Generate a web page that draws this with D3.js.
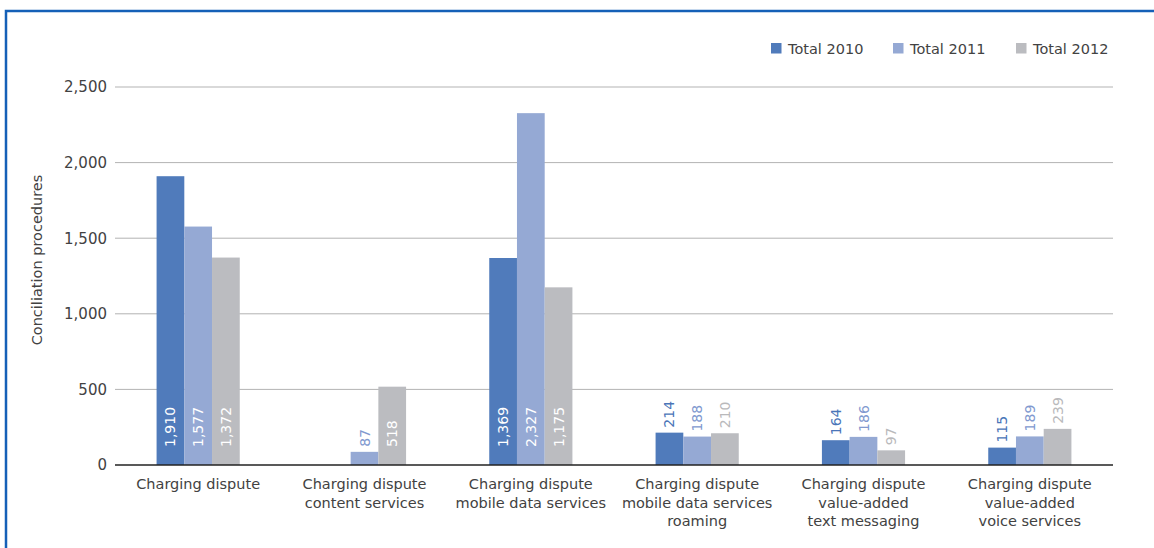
<!DOCTYPE html>
<html>
<head>
<meta charset="utf-8">
<script src="https://cdn.jsdelivr.net/npm/d3@7"></script>
<style>
  html, body { margin: 0; padding: 0; background: #fff; }
  svg { display: block; }
  text { font-family: "DejaVu Sans", sans-serif; }
</style>
</head>
<body>
<svg id="chart" width="1154" height="548"></svg>
<script>
// Conciliation procedures by dispute type, 2010–2012
const categories = [
  ["Charging dispute"],
  ["Charging dispute", "content services"],
  ["Charging dispute", "mobile data services"],
  ["Charging dispute", "mobile data services", "roaming"],
  ["Charging dispute", "value-added", "text messaging"],
  ["Charging dispute", "value-added", "voice services"]
];
const seriesNames = ["Total 2010", "Total 2011", "Total 2012"];
const total2010 = [1910, null, 1369, 214, 164, 115];
const total2011 = [1577, 87, 2327, 188, 186, 189];
const total2012 = [1372, 518, 1175, 210, 97, 239];
const yTicks = [0, 500, 1000, 1500, 2000, 2500];

const seriesValues = [total2010, total2011, total2012];
const barColors = ["#507bbb", "#95a9d4", "#bbbcc0"];
const labelColors = ["#4a75b8", "#8199cf", "#b9b9bb"];
const textColor = "#424242";

const svg = d3.select("#chart");
const margin = { left: 115, right: 41, top: 87, bottom: 83 };
const W = 1154, H = 548;
const plotW = W - margin.left - margin.right;
const plotH = H - margin.top - margin.bottom;

// outer frame
svg.append("rect")
  .attr("x", 6).attr("y", 11)
  .attr("width", 1170).attr("height", 560)
  .attr("fill", "none")
  .attr("stroke", "#1560b7")
  .attr("stroke-width", 2.5);

const g = svg.append("g").attr("transform", `translate(${margin.left},${margin.top})`);

const idx = d3.range(categories.length);
const x0 = d3.scaleBand().domain(idx).range([0, plotW]).paddingInner(0.5).paddingOuter(0.25);
const x1 = d3.scaleBand().domain(d3.range(seriesNames.length)).range([0, x0.bandwidth()]);
const y = d3.scaleLinear().domain([0, 2500]).range([plotH, 0]);

// gridlines
g.append("g").selectAll("line")
  .data(yTicks.filter(t => t > 0))
  .join("line")
  .attr("x1", 0).attr("x2", plotW)
  .attr("y1", d => y(d)).attr("y2", d => y(d))
  .attr("stroke", "#b3b3b3").attr("stroke-width", 1);

// y tick labels
const yAxis = d3.axisLeft(y).tickValues(yTicks).tickSize(0).tickPadding(8).tickFormat(d3.format(","));
const ya = g.append("g").call(yAxis);
ya.select(".domain").remove();
ya.selectAll("text")
  .attr("font-size", 15)
  .attr("fill", textColor)
  .style("font-family", "'DejaVu Sans', sans-serif");

// axis title
svg.append("text")
  .attr("transform", `translate(42,260) rotate(-90)`)
  .attr("text-anchor", "middle")
  .attr("font-size", 14.5)
  .attr("fill", textColor)
  .text("Conciliation procedures");

// bars
const groups = g.append("g").selectAll("g")
  .data(idx)
  .join("g")
  .attr("transform", i => `translate(${x0(i)},0)`);

const cells = groups.selectAll("g.cell")
  .data(i => seriesValues.map((vals, s) => ({ s, v: vals[i] })).filter(d => d.v != null))
  .join("g").attr("class", "cell");

cells.append("rect")
  .attr("x", d => x1(d.s))
  .attr("width", x1.bandwidth())
  .attr("y", d => y(d.v))
  .attr("height", d => plotH - y(d.v))
  .attr("fill", d => barColors[d.s]);

// value labels: inside the bar in white when it fits, above the bar otherwise
cells.append("text")
  .attr("transform", d => {
    const cx = x1(d.s) + x1.bandwidth() / 2;
    const yy = d.v >= 500 ? plotH - 18 : y(d.v) - 5;
    return `translate(${cx},${yy}) rotate(-90)`;
  })
  .attr("dy", "0.36em")
  .attr("text-anchor", "start")
  .attr("font-size", 14)
  .attr("fill", d => d.v >= 500 ? "#ffffff" : labelColors[d.s])
  .text(d => d3.format(",")(d.v));

// baseline
g.append("line")
  .attr("x1", 0).attr("x2", plotW)
  .attr("y1", plotH).attr("y2", plotH)
  .attr("stroke", "#222").attr("stroke-width", 1.5);

// category labels
const catLabels = g.append("g").selectAll("text")
  .data(idx)
  .join("text")
  .attr("x", i => x0(i) + x0.bandwidth() / 2)
  .attr("y", plotH + 24)
  .attr("text-anchor", "middle")
  .attr("font-size", 14.5)
  .attr("fill", textColor);
catLabels.selectAll("tspan")
  .data(i => categories[i].map((t, k) => ({ t, k, i })))
  .join("tspan")
  .attr("x", d => x0(d.i) + x0.bandwidth() / 2)
  .attr("dy", d => d.k === 0 ? 0 : 18.7)
  .text(d => d.t);

// legend
const legendX = [771, 893, 1016];
const legend = svg.append("g").selectAll("g")
  .data(seriesNames)
  .join("g")
  .attr("transform", (d, i) => `translate(${legendX[i]},43)`);
legend.append("rect")
  .attr("width", 10.5).attr("height", 10.5)
  .attr("fill", (d, i) => barColors[i]);
legend.append("text")
  .attr("x", 17).attr("y", 10.5)
  .attr("font-size", 14.5)
  .attr("fill", textColor)
  .text(d => d);
</script>
</body>
</html>
